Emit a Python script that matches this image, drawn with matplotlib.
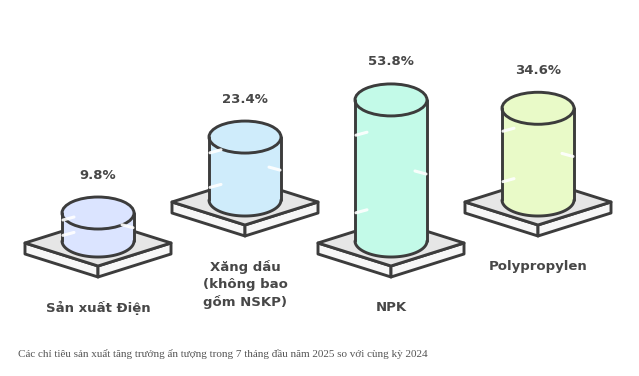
import numpy as np
import matplotlib
matplotlib.use("Agg")
import matplotlib.pyplot as plt
from matplotlib.patches import Polygon, Ellipse

# data
categories = ["Sản xuất Điện", "Xăng dầu\n(không bao\ngồm NSKP)", "NPK", "Polypropylen"]
values = [9.8, 23.4, 53.8, 34.6]
value_labels = ["9.8%", "23.4%", "53.8%", "34.6%"]
fills = ["#dbe4ff", "#cfecfb", "#c3fae8", "#e9fac8"]
caption = "Các chỉ tiêu sản xuất tăng trưởng ấn tượng trong 7 tháng đầu năm 2025 so với cùng kỳ 2024"

W, H = 639, 376
fig = plt.figure(figsize=(W / 100, H / 100), dpi=100)
ax = fig.add_axes([0, 0, 1, 1])
ax.set_xlim(0, W)
ax.set_ylim(H, 0)
ax.axis("off")

stroke = "#3c3c3c"
lw = 2.1

# layout (pixel units), platforms alternate low / high
xs = [98, 245, 391, 538]
base_y = [243, 202, 243, 202]
pw, ph, pt = 73, 23, 11      # platform half width, half height, thickness
r, ry = 36, 16               # cylinder radius and ellipse half height


def height(v):
    # pixel height of cylinder for a value
    return 2.8 + 2.57 * v


for cx, by, v, lab, cat, col in zip(xs, base_y, values, value_labels, categories, fills):
    # platform
    L = (cx - pw, by); F = (cx, by + ph); R = (cx + pw, by); B = (cx, by - ph)
    ax.add_patch(Polygon([L, F, (F[0], F[1] + pt), (L[0], L[1] + pt)], closed=True,
                         fc="#f7f7f7", ec=stroke, lw=lw, joinstyle="round"))
    ax.add_patch(Polygon([F, R, (R[0], R[1] + pt), (F[0], F[1] + pt)], closed=True,
                         fc="#f7f7f7", ec=stroke, lw=lw, joinstyle="round"))
    ax.add_patch(Polygon([L, F, R, B], closed=True, fc="#e6e6e6", ec=stroke, lw=lw,
                         joinstyle="round"))

    # cylinder
    yb = by - 2
    yt = yb - height(v)
    th = np.linspace(0, np.pi, 60)
    body = [(cx - r, yt), (cx - r, yb)]
    body += list(zip(cx - r * np.cos(th), yb + ry * np.sin(th)))
    body += [(cx + r, yt)]
    ax.add_patch(Polygon(body, closed=True, fc=col, ec="none"))
    ax.plot([cx - r, cx - r], [yt, yb], color=stroke, lw=lw, solid_capstyle="round")
    ax.plot([cx + r, cx + r], [yt, yb], color=stroke, lw=lw, solid_capstyle="round")
    ax.plot(cx - r * np.cos(th), yb + ry * np.sin(th), color=stroke, lw=lw,
            solid_capstyle="round")
    # light sketch strokes in the fill
    for k, f in enumerate(np.linspace(0.25, 0.8, 3)):
        yy = yt + f * (yb - yt)
        side = -1 if k % 2 == 0 else 1
        ax.plot([cx + side * (r - 1), cx + side * (r - 12)], [yy, yy - 3],
                color="white", lw=2.2, alpha=0.9, solid_capstyle="round")
    ax.add_patch(Ellipse((cx, yt), 2 * r, 2 * ry, fc=col, ec=stroke, lw=lw))

    # value label
    ax.text(cx, yt - ry - 22, lab, ha="center", va="center", fontsize=9.5,
            fontweight="bold", color="#474747")
    # category label
    ax.text(cx, by + 58, cat, ha="center", va="top", fontsize=9.5,
            fontweight="bold", color="#474747", linespacing=1.4)

ax.text(18, 354, caption, ha="left", va="center", fontsize=8.0,
        family="Liberation Serif", color="#555555")

fig.savefig("out.png", dpi=100, facecolor="white")
